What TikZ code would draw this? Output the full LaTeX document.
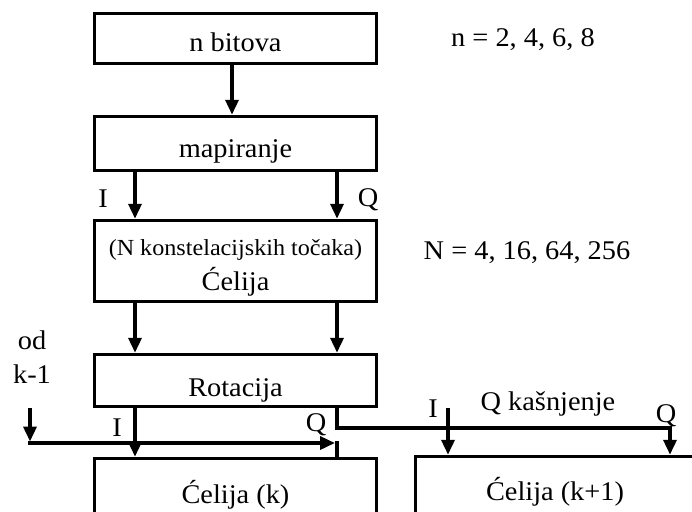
\documentclass[tikz,border=0pt]{standalone}
\usepackage{fontspec}
\setmainfont[FakeStretch=1.05]{Liberation Serif}
\usetikzlibrary{arrows.meta}
\begin{document}
\begin{tikzpicture}[x=1pt,y=-1pt,
  blk/.style={draw,line width=3.5pt,inner sep=0pt,minimum width=282pt,text depth=0pt,text height=27pt,font=\fontsize{27}{30}\selectfont},
  arr/.style={line width=3.5pt,-{Triangle[length=15pt,width=13pt]}},
  ln/.style={line width=3.5pt},
  txt/.style={inner sep=0pt,anchor=base,font=\fontsize{27}{30}\selectfont},
  stxt/.style={inner sep=0pt,anchor=base,font=\fontsize{23}{26}\selectfont}]
\useasboundingbox (0,0) rectangle (692,511);
\clip (0,0) rectangle (692,511);
% boxes
\node[blk,minimum height=50pt] (b1) at (235.5,38.5) {n bitova};
\node[blk,minimum height=54pt] (b2) at (235.5,143.5) {mapiranje};
\node[blk,minimum height=81pt,text height=0pt] (b3) at (235.5,261) {};
\node[stxt] (b3a) at (235.5,255) {(N konstelacijskih točaka)};
\node[txt] (b3b) at (235.5,290) {Ćelija};
\node[blk,minimum height=52pt,text height=31pt] (b4) at (235.5,380.5) {Rotacija};
\node[blk,minimum height=62pt] (b5) at (235.5,489.5) {Ćelija (k)};
\node[blk,minimum width=279pt,minimum height=60pt] (b6) at (555,486.5) {Ćelija (k+1)};
% side labels
\node[txt] (nl) at (523,47) {n = 2, 4, 6, 8};
\node[txt] (Nl) at (527,259) {N = 4, 16, 64, 256};
\node[txt] (i1) at (103,207) {I};
\node[txt] (q1) at (368,206) {Q};
\node[txt] (od) at (32,349) {od};
\node[txt] (km) at (32,383) {k-1};
\node[txt] (i2) at (117,436) {I};
\node[txt] (q2) at (316,431) {Q};
\node[txt] (i3) at (433,417) {I};
\node[txt] (qk) at (548,410) {Q kašnjenje};
\node[txt] (q3) at (666,422) {Q};
% connectors
\draw[arr] (232,0 |- b1.south) -- (232,0 |- b2.north);
\draw[arr] (135,0 |- b2.south) -- (135,0 |- b3.north);
\draw[arr] (337,0 |- b2.south) -- (337,0 |- b3.north);
\draw[arr] (135,0 |- b3.south) -- (135,0 |- b4.north);
\draw[arr] (337,0 |- b3.south) -- (337,0 |- b4.north);
\draw[arr] (135,0 |- b4.south) -- (135,0 |- b5.north);
\coordinate (qc1) at (337,428);
\coordinate (qc2) at (670,428);
\draw[arr] (337,0 |- b4.south) -- (qc1) -- (qc2) -- (670,0 |- b6.north);
\coordinate (ik) at (448,408);
\draw[arr] (ik) -- (448,0 |- b6.north);
\coordinate (odk) at (30,408);
\coordinate (odr) at (335,443);
\draw[arr] (odk) -- (30,441.5);
\draw[arr] (28.25,443) -- (odr);
\draw[ln] (337,441.25) -- (337,0 |- b5.north);
\end{tikzpicture}
\end{document}
